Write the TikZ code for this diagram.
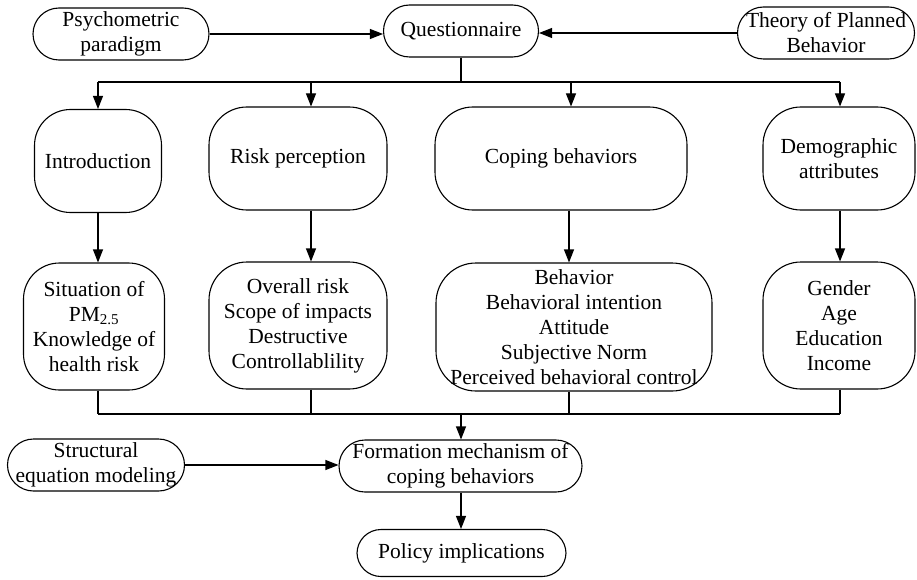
\documentclass[tikz,border=0pt]{standalone}
\usepackage{fontspec}
\setmainfont{Liberation Serif}
\usetikzlibrary{arrows.meta}
\begin{document}
\begin{tikzpicture}[x=1pt,y=-1pt,
  box/.style={draw, line width=1.1pt, inner sep=0pt, align=center,
    font=\fontsize{21.5}{25}\selectfont},
  arr/.style={line width=1.1pt, -{Triangle[length=13pt,width=10pt]}},
  ln/.style={line width=1.1pt}]
\useasboundingbox (0,0) rectangle (917,580);
% top row
\node[box, minimum width=176pt, minimum height=52pt, rounded corners=26pt] (psy) at (121,34) {Psychometric\\paradigm};
\node[box, minimum width=155pt, minimum height=52pt, rounded corners=26pt] (quest) at (461,31) {Questionnaire};
\node[box, minimum width=177pt, minimum height=52pt, rounded corners=26pt] (tpb) at (826,33) {Theory of Planned\\Behavior};
% second row
\node[box, minimum width=127pt, minimum height=103pt, rounded corners=36pt] (intro) at (98,161) {Introduction};
\node[box, minimum width=178pt, minimum height=103pt, rounded corners=38pt] (rp) at (298,158.5) {Risk perception};
\node[box, minimum width=252pt, minimum height=103pt, rounded corners=38pt] (cb) at (561,158.5) {Coping behaviors};
\node[box, minimum width=152pt, minimum height=103pt, rounded corners=38pt] (da) at (839,158.5) {Demographic\\attributes};
% third row
\node[box, minimum width=141pt, minimum height=127pt, rounded corners=36pt] (sit) at (94,326.5) {Situation of\\PM\textsubscript{2.5}\\Knowledge of\\health risk};
\node[box, minimum width=178pt, minimum height=127pt, rounded corners=38pt] (ovr) at (298,325.5) {Overall risk\\Scope of impacts\\Destructive\\Controllablility};
\node[box, minimum width=276pt, minimum height=128pt, rounded corners=40pt] (beh) at (574,327) {Behavior\\Behavioral intention\\Attitude\\Subjective Norm\\Perceived behavioral control};
\node[box, minimum width=152pt, minimum height=127pt, rounded corners=38pt] (gen) at (839,325.5) {Gender\\Age\\Education\\Income};
% bottom
\node[box, minimum width=177pt, minimum height=52pt, rounded corners=26pt] (sem) at (96,465) {Structural\\equation modeling};
\node[box, minimum width=243pt, minimum height=52pt, rounded corners=26pt] (form) at (460.5,466) {Formation mechanism of\\coping behaviors};
\node[box, minimum width=209pt, minimum height=47pt, rounded corners=24pt] (pol) at (461.5,553) {Policy implications};
% coordinates
\coordinate (t1) at (98,82);
\coordinate (t2) at (311,82);
\coordinate (t3) at (571,82);
\coordinate (t4) at (840,82);
\coordinate (u1) at (98,414);
\coordinate (u2) at (311,414);
\coordinate (u3) at (569,414);
\coordinate (u4) at (840,414);
\coordinate (u0) at (461,414);
% connectors
\draw[arr] (psy.east) -- (psy.east -| quest.west);
\draw[arr] (tpb.west) -- (tpb.west -| quest.east);
\draw[ln] (quest.south) -- (quest.south |- t1);
\draw[ln] (t1) -- (t4);
\draw[arr] (t1) -- (t1 |- intro.north);
\draw[arr] (t2) -- (t2 |- rp.north);
\draw[arr] (t3) -- (t3 |- cb.north);
\draw[arr] (t4) -- (t4 |- da.north);
\draw[arr] (intro.south -| t1) -- (t1 |- sit.north);
\draw[arr] (rp.south -| t2) -- (t2 |- ovr.north);
\draw[arr] (cb.south -| u3) -- (u3 |- beh.north);
\draw[arr] (da.south -| t4) -- (t4 |- gen.north);
\draw[ln] (sit.south -| u1) -- (u1);
\draw[ln] (ovr.south -| u2) -- (u2);
\draw[ln] (beh.south -| u3) -- (u3);
\draw[ln] (gen.south -| u4) -- (u4);
\draw[ln] (u1) -- (u4);
\draw[arr] (u0) -- (u0 |- form.north);
\draw[arr] (sem.east) -- (sem.east -| form.west);
\draw[arr] (form.south -| u0) -- (u0 |- pol.north);
\end{tikzpicture}
\end{document}
